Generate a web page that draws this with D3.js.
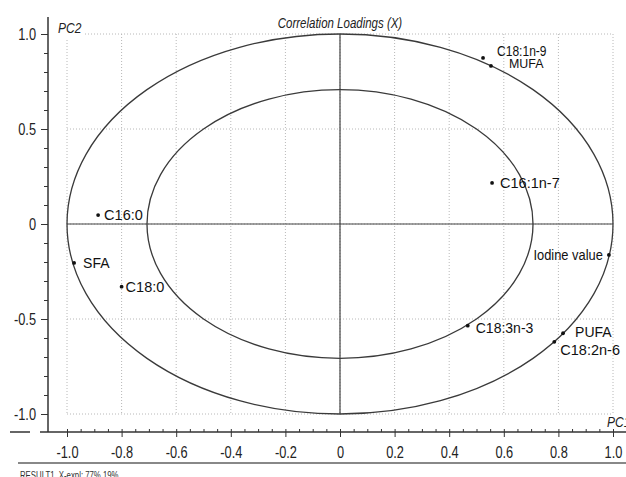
<!DOCTYPE html>
<html>
<head>
<meta charset="utf-8">
<script src="https://cdn.jsdelivr.net/npm/d3@7"></script>
<style>
  html, body { margin: 0; padding: 0; background: #fff; }
  svg { display: block; }
  text { font-family: "Liberation Sans", Arial, sans-serif; }
</style>
</head>
<body>
<svg id="chart" width="626" height="477"></svg>
<script>
// ---- data ----
const variables = ["C18:1n-9", "MUFA", "C16:1n-7", "Iodine value", "C16:0", "SFA", "C18:0", "C18:3n-3", "PUFA", "C18:2n-6"];
const pc1 = [0.524, 0.553, 0.557, 0.985, -0.886, -0.974, -0.800, 0.468, 0.817, 0.785];
const pc2 = [0.874, 0.832, 0.216, -0.163, 0.047, -0.205, -0.330, -0.535, -0.575, -0.620];
const circleRadii = [1.0, 0.707];
const xTicks = [-1.0, -0.8, -0.6, -0.4, -0.2, 0, 0.2, 0.4, 0.6, 0.8, 1.0];
const xTickLabels = ["-1.0", "-0.8", "-0.6", "-0.4", "-0.2", "0", "0.2", "0.4", "0.6", "0.8", "1.0"];
const yTicks = [1.0, 0.5, 0, -0.5, -1.0];
const yTickLabels = ["1.0", "0.5", "0", "-0.5", "-1.0"];
const title = "Correlation Loadings (X)";
const footer = "RESULT1, X-expl: 77%,19%";

// label styling (position relative to dot)
const labelStyle = {
  "C18:1n-9":    {dx: 14, dy: -2,  anchor: "start", size: 14, sx: 0.86},
  "MUFA":        {dx: 18, dy: 2.5, anchor: "start", size: 13.5, sx: 0.92},
  "C16:1n-7":    {dx: 8,  dy: 5,   anchor: "start", size: 14.5, sx: 1},
  "Iodine value":{dx: -6, dy: 5,   anchor: "end",   size: 15, sx: 0.86},
  "C16:0":       {dx: 6,  dy: 5,   anchor: "start", size: 14.5, sx: 1},
  "SFA":         {dx: 9,  dy: 5,   anchor: "start", size: 14, sx: 1},
  "C18:0":       {dx: 4,  dy: 5,   anchor: "start", size: 14.5, sx: 1},
  "C18:3n-3":    {dx: 8,  dy: 7,   anchor: "start", size: 14, sx: 1},
  "PUFA":        {dx: 12, dy: 4,   anchor: "start", size: 14, sx: 1},
  "C18:2n-6":    {dx: 6,  dy: 13,  anchor: "start", size: 14.5, sx: 1}
};

const svg = d3.select("#chart");
const x = d3.scaleLinear().domain([-1, 1]).range([67, 613]);
const y = d3.scaleLinear().domain([-1, 1]).range([414, 34]);

const axisY = 432, axisX = 48;

// helper: horizontally condensed text
function ctext(parent, px, py, str, size, sx, opts = {}) {
  return parent.append("text")
    .attr("transform", `translate(${px},${py}) scale(${sx},1)`)
    .attr("font-size", size)
    .attr("text-anchor", opts.anchor || "start")
    .attr("font-style", opts.italic ? "italic" : null)
    .attr("fill", opts.fill || "#222")
    .text(str);
}

// ---- dotted grid ----
const grid = svg.append("g").attr("stroke", "#b8b8b8").attr("stroke-width", 1).attr("stroke-dasharray", "1,2");
grid.selectAll("line.v").data(xTicks).join("line")
  .attr("x1", d => x(d)).attr("x2", d => x(d))
  .attr("y1", y(1)).attr("y2", y(-1));
grid.selectAll("line.h").data(yTicks).join("line")
  .attr("x1", x(-1)).attr("x2", x(1))
  .attr("y1", d => y(d)).attr("y2", d => y(d));

// ---- zero lines ----
svg.append("line").attr("x1", x(-1)).attr("x2", x(1)).attr("y1", y(0)).attr("y2", y(0))
  .attr("stroke", "#444").attr("stroke-width", 1.2);
svg.append("line").attr("x1", x(0)).attr("x2", x(0)).attr("y1", y(1)).attr("y2", y(-1))
  .attr("stroke", "#444").attr("stroke-width", 1.2);

// ---- correlation ellipses ----
svg.selectAll("ellipse.c").data(circleRadii).join("ellipse")
  .attr("cx", x(0)).attr("cy", y(0))
  .attr("rx", d => x(d) - x(0)).attr("ry", d => y(0) - y(d))
  .attr("fill", "none").attr("stroke", "#3a3a3a").attr("stroke-width", 1.3);

// ---- x axis ----
const xMinor = d3.range(-20, 22).map(i => i * 0.05);
svg.append("line").attr("x1", 40).attr("x2", 626).attr("y1", axisY).attr("y2", axisY)
  .attr("stroke", "#333").attr("stroke-width", 1.5);
svg.append("line").attr("x1", 10).attr("x2", 30).attr("y1", axisY).attr("y2", axisY)
  .attr("stroke", "#333").attr("stroke-width", 1.5);
const gxMinor = svg.append("g").attr("transform", `translate(0,${axisY})`)
  .call(d3.axisBottom(x).tickValues(xMinor).tickSize(-3).tickFormat(""));
gxMinor.select(".domain").remove();
gxMinor.selectAll("line").attr("stroke", "#333");
const gx = svg.append("g").attr("transform", `translate(0,${axisY})`)
  .call(d3.axisBottom(x).tickValues(xTicks).tickSize(5).tickPadding(10)
    .tickFormat((d, i) => xTickLabels[i]));
gx.select(".domain").remove();
gx.selectAll("line").attr("stroke", "#333");
gx.selectAll("text").attr("font-family", "Liberation Sans, Arial, sans-serif")
  .attr("font-size", 16).attr("transform", "scale(0.8,1)").attr("fill", "#222");

// ---- y axis ----
svg.append("line").attr("x1", axisX).attr("x2", axisX).attr("y1", 17).attr("y2", axisY)
  .attr("stroke", "#333").attr("stroke-width", 1.5);
const yMinor = d3.range(-10, 11).map(i => i * 0.1);
const gyMinor = svg.append("g").attr("transform", `translate(${axisX},0)`)
  .call(d3.axisLeft(y).tickValues(yMinor).tickSize(4).tickFormat(""));
gyMinor.select(".domain").remove();
gyMinor.selectAll("line").attr("stroke", "#333");
const gy = svg.append("g").attr("transform", `translate(${axisX},0)`)
  .call(d3.axisLeft(y).tickValues(yTicks).tickSize(7).tickPadding(5)
    .tickFormat((d, i) => yTickLabels[i]));
gy.select(".domain").remove();
gy.selectAll("line").attr("stroke", "#333");
gy.selectAll("text").attr("font-family", "Liberation Sans, Arial, sans-serif")
  .attr("font-size", 16).attr("x", -15).attr("transform", "scale(0.8,1)").attr("fill", "#222");

// ---- bottom separator & footer ----
svg.append("line").attr("x1", 18).attr("x2", 626).attr("y1", 463).attr("y2", 463)
  .attr("stroke", "#888").attr("stroke-width", 2);
ctext(svg, 20, 479, footer, 10, 0.78, {fill: "#333"});

// ---- title and axis names ----
ctext(svg, x(0), 28, title, 14, 0.82, {anchor: "middle", italic: true});
svg.append("rect").attr("x", 56).attr("y", 20).attr("width", 29).attr("height", 18).attr("fill", "#fff");
ctext(svg, 58, 33, "PC2", 15, 0.8, {italic: true});
ctext(svg, 607, 427, "PC1", 15, 0.8, {italic: true});

// ---- loadings ----
const pts = variables.map((v, i) => ({name: v, px: pc1[i], py: pc2[i]}));
const g = svg.append("g");
g.selectAll("circle").data(pts).join("circle")
  .attr("cx", d => x(d.px)).attr("cy", d => y(d.py)).attr("r", 1.9).attr("fill", "#111");
g.selectAll("text").data(pts).join("text")
  .attr("transform", d => {
    const s = labelStyle[d.name];
    return `translate(${x(d.px) + s.dx},${y(d.py) + s.dy}) scale(${s.sx},1)`;
  })
  .attr("text-anchor", d => labelStyle[d.name].anchor)
  .attr("font-size", d => labelStyle[d.name].size)
  .attr("fill", "#111")
  .text(d => d.name);
</script>
</body>
</html>
